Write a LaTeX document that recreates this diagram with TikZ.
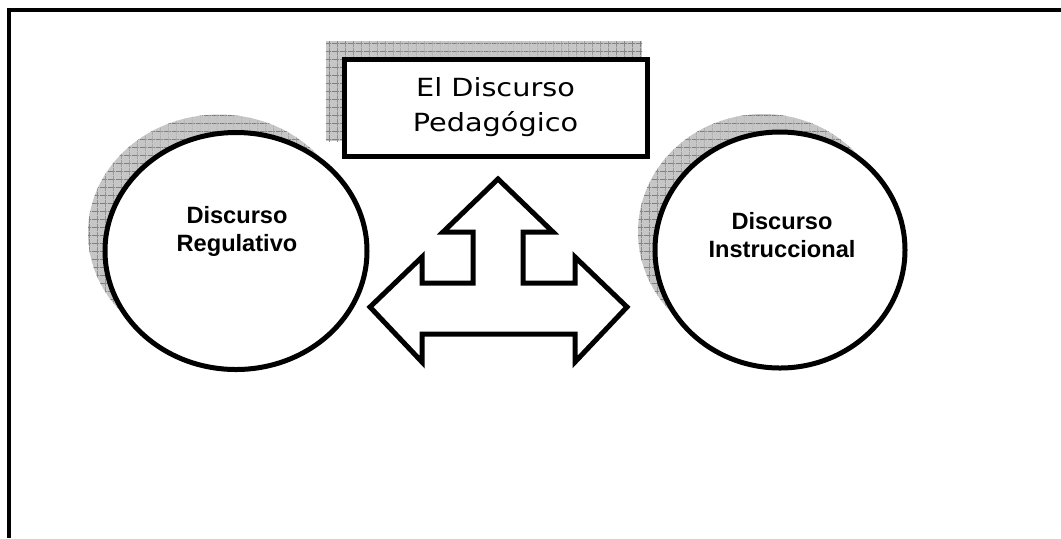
\documentclass[tikz,border=0pt]{standalone}
\usepackage{fontspec}
\setmainfont{Liberation Sans}
\newfontfamily\titlefont[FakeStretch=1.15]{DejaVu Sans}
\usetikzlibrary{shapes.geometric,patterns.meta}

\tikzset{
  shadowgrid/.style={fill=gray!45,
    postaction={pattern={Lines[distance=4pt,angle=0,line width=.4pt]},pattern color=gray},
    postaction={pattern={Lines[distance=4pt,angle=90,line width=.4pt]},pattern color=gray}},
  heavy/.style={line width=2.5pt},
  disc/.style={ellipse,draw,heavy,fill=white,inner sep=0pt},
  lbl/.style={font=\fontsize{11.8}{14}\selectfont\bfseries,align=center}
}

\begin{document}
\begin{tikzpicture}[x=0.5pt,y=-0.5pt]
\useasboundingbox (0,0) rectangle (1061,538);

% frame
\draw[line width=2pt] (1061,9.5) -- (9,9.5) -- (9,538);

% shadows
\path[shadowgrid] (326,41) rectangle (642,141);
\node[disc,draw=none,shadowgrid,minimum width=131pt,minimum height=118.5pt] (regshadow) at (219,233) {};
\node[disc,draw=none,shadowgrid,minimum width=125pt,minimum height=118pt] (insshadow) at (763,232) {};

% title box
\node[draw,heavy,fill=white,minimum width=151.5pt,minimum height=48.5pt,inner sep=0pt,
  align=center,font=\titlefont\fontsize{12.5}{17.5}\selectfont] (title) at (495.5,107.5) {El Discurso\\Pedagógico};

% the two discourses
\node[disc,minimum width=131pt,minimum height=118.5pt] (reg) at (236,251) {};
\node[disc,minimum width=125pt,minimum height=118pt] (ins) at (780,250) {};
\node[lbl] (regtext) at (237,231) {Discurso\\Regulativo};
\node[lbl] (instext) at (782,235) {Discurso\\Instruccional};

% three-way arrow
\draw[heavy,fill=white,line join=miter] (498,179) -- (553,232) -- (523,232) -- (523,283)
  -- (575,283) -- (575,257) -- (627,307) -- (575,362) -- (575,334) -- (422,334)
  -- (422,362) -- (370,307) -- (422,257) -- (422,283) -- (473,283) -- (473,232)
  -- (443,232) -- cycle;

\end{tikzpicture}
\end{document}
